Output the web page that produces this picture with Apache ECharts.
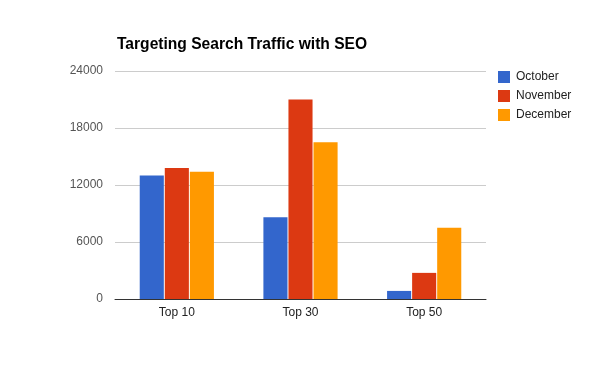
<!DOCTYPE html>
<html>
<head>
<meta charset="utf-8">
<script src="https://cdn.jsdelivr.net/npm/echarts@6/dist/echarts.min.js"></script>
<style>
html,body{margin:0;padding:0;background:#fff;}
#chart{width:600px;height:371px;}
</style>
</head>
<body>
<div id="chart"></div>
<script>
const categories = ['Top 10', 'Top 30', 'Top 50'];
const seriesNames = ['October', 'November', 'December'];
const october = [13000, 8600, 850];
const november = [13800, 21000, 2750];
const december = [13400, 16500, 7500];
const yTicks = [0, 6000, 12000, 18000, 24000];
const colors = ['#3366cc', '#dc3912', '#ff9900'];

const chart = echarts.init(document.getElementById('chart'), null, {renderer: 'canvas'});
const font = 'Arial, "Liberation Sans", sans-serif';
chart.setOption({
  animation: false,
  color: colors,
  title: {
    text: 'Targeting Search Traffic with SEO',
    left: 117, top: 37, padding: 0,
    textStyle: {fontFamily: font, fontSize: 15.6, fontWeight: 'bold', color: '#000'}
  },
  legend: {
    orient: 'vertical',
    left: 498, top: 71, padding: 0,
    itemWidth: 12, itemHeight: 12, itemGap: 7,
    icon: 'rect',
    textStyle: {fontFamily: font, fontSize: 12, color: '#222', padding: [0,0,0,1]},
    data: seriesNames
  },
  grid: {left: 115, right: 114, top: 71, bottom: 72, containLabel: false},
  xAxis: {
    type: 'category',
    data: categories,
    axisLine: {lineStyle: {color: '#333', width: 1}},
    axisTick: {show: false},
    axisLabel: {fontFamily: font, fontSize: 12, color: '#222', margin: 8}
  },
  yAxis: {
    type: 'value',
    min: yTicks[0], max: yTicks[yTicks.length - 1], interval: yTicks[1] - yTicks[0],
    axisLine: {show: false},
    axisTick: {show: false},
    splitLine: {lineStyle: {color: '#ccc', width: 1}},
    axisLabel: {fontFamily: font, fontSize: 12, color: '#555', margin: 12, formatter: v => String(v)}
  },
  series: [
    {name: seriesNames[0], type: 'bar', data: october, barGap: '4%', barCategoryGap: '40%'},
    {name: seriesNames[1], type: 'bar', data: november, barGap: '4%', barCategoryGap: '40%'},
    {name: seriesNames[2], type: 'bar', data: december, barGap: '4%', barCategoryGap: '40%'}
  ]
});
</script>
</body>
</html>
